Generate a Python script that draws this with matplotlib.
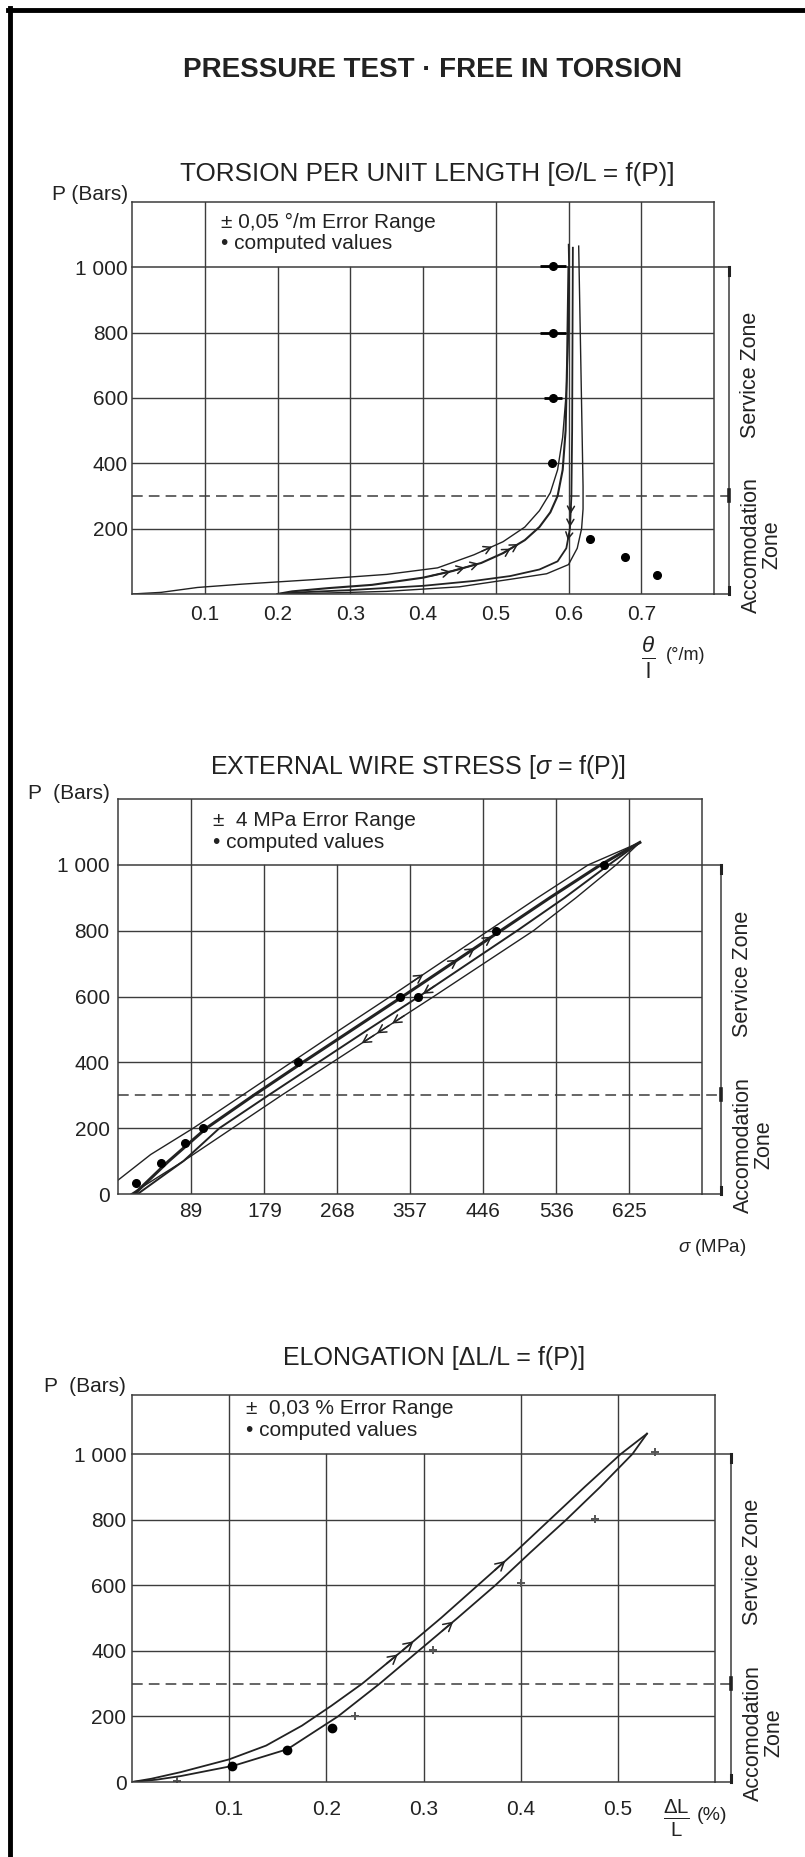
import numpy as np
import matplotlib.pyplot as plt
from matplotlib.lines import Line2D
from matplotlib.transforms import blended_transform_factory

plt.rcParams['font.family'] = ['Liberation Sans', 'DejaVu Sans']
plt.rcParams['mathtext.fontset'] = 'custom'
plt.rcParams['mathtext.rm'] = 'Liberation Sans'
plt.rcParams['mathtext.it'] = 'Liberation Sans:italic'

W, H = 805, 1857
INK = '#222222'
GRID = '#3c3c3c'

# ---------------- chart 1 : torsion per unit length ----------------
tor_xticks = [0.1, 0.2, 0.3, 0.4, 0.5, 0.6, 0.7]
tor_xlabels = ['0.1', '0.2', '0.3', '0.4', '0.5', '0.6', '0.7']
tor_pticks = [200, 400, 600, 800, 1000]
tor_plabels = ['200', '400', '600', '800', '1 000']

tor_c1_x = [0.0, 0.04, 0.09, 0.15, 0.25, 0.35, 0.42, 0.47, 0.51, 0.54, 0.56, 0.575, 0.585, 0.592, 0.597, 0.6, 0.601, 0.6]
tor_c1_p = [0, 5, 20, 30, 44, 60, 80, 120, 160, 205, 255, 310, 380, 480, 620, 800, 950, 1070]
tor_c2_x = [0.2, 0.22, 0.27, 0.33, 0.4, 0.44, 0.48, 0.51, 0.54, 0.56, 0.575, 0.585, 0.592, 0.596, 0.598, 0.6]
tor_c2_p = [0, 8, 18, 28, 50, 70, 95, 125, 165, 205, 250, 300, 380, 500, 700, 1000]
tor_c3_x = [0.2, 0.23, 0.3, 0.4, 0.47, 0.52, 0.56, 0.585, 0.597, 0.602, 0.604, 0.605, 0.606]
tor_c3_p = [0, 5, 12, 25, 40, 55, 75, 100, 140, 200, 300, 500, 1060]
tor_c4_x = [0.21, 0.25, 0.35, 0.45, 0.52, 0.57, 0.6, 0.612, 0.618, 0.62, 0.62, 0.617, 0.614]
tor_c4_p = [0, 2, 8, 22, 45, 62, 90, 140, 200, 260, 330, 700, 1065]
tor_comp_x = [0.579, 0.579, 0.579, 0.577, 0.63, 0.678, 0.722]
tor_comp_p = [1003, 800, 600, 400, 167, 112, 59]
tor_comp_err = [0.018, 0.018, 0.012, 0.0, 0.0, 0.0, 0.0]

# ---------------- chart 2 : external wire stress ----------------
str_xticks = [89, 179, 268, 357, 446, 536, 625]
str_xlabels = ['89', '179', '268', '357', '446', '536', '625']
str_pticks = [0, 200, 400, 600, 800, 1000]
str_plabels = ['0', '200', '400', '600', '800', '1 000']

str_u_x = [0, 40, 92, 152, 212, 272, 333, 393, 453, 513, 575, 638]
str_u_p = [42, 120, 200, 300, 400, 500, 600, 700, 800, 900, 1000, 1068]
str_m1_x = [20, 62, 108, 166, 226, 287, 348, 408, 468, 528, 590, 638]
str_m1_p = [0, 100, 200, 300, 400, 500, 600, 700, 800, 900, 1000, 1068]
str_m2_x = [24, 80, 124, 184, 245, 306, 368, 428, 488, 546, 600, 638]
str_m2_p = [0, 100, 200, 300, 400, 500, 600, 700, 800, 900, 1000, 1068]
str_l_x = [16, 80, 140, 200, 262, 324, 386, 447, 508, 560, 609, 638]
str_l_p = [0, 100, 200, 300, 400, 500, 600, 700, 800, 900, 1000, 1068]
str_comp_x = [22, 53, 82, 104, 220, 345, 367, 462, 594]
str_comp_p = [33, 94, 155, 200, 400, 600, 600, 800, 1000]

# ---------------- chart 3 : elongation ----------------
elo_xticks = [0.1, 0.2, 0.3, 0.4, 0.5]
elo_xlabels = ['0.1', '0.2', '0.3', '0.4', '0.5']
elo_pticks = [0, 200, 400, 600, 800, 1000]
elo_plabels = ['0', '200', '400', '600', '800', '1 000']

elo_up_x = [0.0, 0.02, 0.05, 0.1, 0.138, 0.175, 0.205, 0.237, 0.278, 0.318, 0.356, 0.394, 0.43, 0.466, 0.503, 0.53]
elo_up_p = [0, 10, 30, 69, 111, 172, 232, 300, 400, 500, 600, 700, 800, 900, 1000, 1062]
elo_dn_x = [0.53, 0.515, 0.482, 0.447, 0.41, 0.374, 0.335, 0.295, 0.255, 0.212, 0.16, 0.105, 0.05, 0.025, 0.0]
elo_dn_p = [1062, 1000, 900, 800, 700, 600, 500, 400, 300, 200, 100, 50, 18, 7, 0]
elo_comp_x = [0.103, 0.16, 0.206]
elo_comp_p = [50, 99, 165]
elo_small_x = [0.046, 0.229, 0.31, 0.40, 0.476, 0.538]
elo_small_p = [2, 200, 402, 608, 803, 1005]


def add_box(l, t, r, b):
    return fig.add_axes([l / W, 1 - b / H, (r - l) / W, (b - t) / H])


def frame(ax, xmax, pmax, xticks, xlabels, pticks, plabels, box, bx, xpad, ypad):
    ax.set_xlim(0, xmax)
    ax.set_ylim(0, pmax)
    ax.set_xticks(xticks, xlabels)
    ax.set_yticks(pticks, plabels)
    ax.tick_params(length=0, labelsize=15, colors=INK)
    ax.tick_params(axis='x', pad=xpad)
    ax.tick_params(axis='y', pad=ypad)
    for s in ax.spines.values():
        s.set_color(GRID)
        s.set_linewidth(1.1)
    for x in xticks:
        top = 1000 if box[0] < x < box[1] else pmax
        ax.plot([x, x], [0, top], color=GRID, lw=1.0, zorder=1)
    for p in pticks:
        if 0 < p < 1000:
            ax.plot([0, xmax], [p, p], color=GRID, lw=1.0, zorder=1)
    tr = blended_transform_factory(ax.transAxes, ax.transData)
    ax.plot([0, bx], [1000, 1000], color=GRID, lw=1.1, transform=tr, clip_on=False)
    ax.plot([0, bx], [300, 300], color=GRID, lw=1.1, ls=(0, (7, 4)), transform=tr, clip_on=False)
    ax.plot([1, bx], [0, 0], color=GRID, lw=1.1, transform=tr, clip_on=False)
    ax.plot([bx, bx], [0, 1000], color=GRID, lw=1.1, transform=tr, clip_on=False)
    ax.plot([bx, bx], [1000, 975], color=INK, lw=2.2, transform=tr, clip_on=False)
    ax.plot([bx, bx], [285, 318], color=INK, lw=2.6, transform=tr, clip_on=False)
    ax.plot([bx, bx], [0, 22], color=INK, lw=2.2, transform=tr, clip_on=False)
    ax.text(bx + 0.037, 670, 'Service Zone', rotation=90, transform=tr, ha='center', va='center',
            fontsize=15.5, color=INK)
    ax.text(bx + 0.056, 150, 'Accomodation\nZone', rotation=90, transform=tr, ha='center', va='center',
            multialignment='center', linespacing=0.95, fontsize=15.5, color=INK)


def arrows(ax, xs, ps, levels, dp, up=True, ms=11):
    xs = np.asarray(xs, float)
    ps = np.asarray(ps, float)
    order = np.argsort(ps)
    for lv in levels:
        xa = np.interp(lv - dp, ps[order], xs[order])
        xb = np.interp(lv + dp, ps[order], xs[order])
        a, b = ((xa, lv - dp), (xb, lv + dp)) if up else ((xb, lv + dp), (xa, lv - dp))
        ax.annotate('', xy=b, xytext=a,
                    arrowprops=dict(arrowstyle='->,head_length=0.5,head_width=0.28', lw=1.1,
                                    color=INK, shrinkA=0, shrinkB=0, mutation_scale=ms))


fig = plt.figure(figsize=(W / 100, H / 100), dpi=100)
fig.patch.set_facecolor('white')

# page border (top and left only, as scanned)
fig.add_artist(Line2D([8 / W, 1], [1 - 10 / H, 1 - 10 / H], color='black', lw=3.5))
fig.add_artist(Line2D([10 / W, 10 / W], [0, 1 - 8 / H], color='black', lw=3.5))

fig.text(433 / W, 1 - 70 / H, 'PRESSURE TEST · FREE IN TORSION', ha='center', va='center',
         fontsize=20, fontweight='bold', color=INK)

# ---- chart 1
ax1 = add_box(132, 202, 714, 594)
frame(ax1, 0.8, 1200, tor_xticks, tor_xlabels, tor_pticks, tor_plabels, (0.1, 0.5), 1.0258, 8, 3)
ax1.plot(tor_c1_x, tor_c1_p, color=INK, lw=1.0)
ax1.plot(tor_c2_x, tor_c2_p, color=INK, lw=1.5)
ax1.plot(tor_c3_x, tor_c3_p, color=INK, lw=1.3)
ax1.plot(tor_c4_x, tor_c4_p, color=INK, lw=1.0)
ax1.errorbar(tor_comp_x, tor_comp_p, xerr=tor_comp_err, fmt='o', ms=5.5, color='black',
             elinewidth=2.0, capsize=0)
arrows(ax1, tor_c2_x, tor_c2_p, [62, 74, 86, 132, 146], 7, True, 10)
arrows(ax1, tor_c1_x, tor_c1_p, [138], 7, True, 10)
arrows(ax1, tor_c3_x, tor_c3_p, [175, 215, 255], 10, False, 9)
fig.text(427 / W, 1 - 174 / H, 'TORSION PER UNIT LENGTH [Θ/L = f(P)]', ha='center', va='center',
         fontsize=18.8, color=INK)
fig.text(128 / W, 1 - 195 / H, 'P (Bars)', ha='right', va='center', fontsize=15, color=INK)
fig.text(221 / W, 1 - 222 / H, '± 0,05 °/m Error Range', ha='left', va='center', fontsize=15, color=INK)
fig.text(221 / W, 1 - 244 / H, '• computed values', ha='left', va='center', fontsize=15, color=INK)
fig.text(648 / W, 1 - 658 / H, r'$\frac{\theta}{\mathrm{l}}$', ha='center', va='center', fontsize=23, color=INK)
fig.text(666 / W, 1 - 656 / H, '(°/m)', ha='left', va='center', fontsize=13, color=INK)

# ---- chart 2
ax2 = add_box(118, 799, 702, 1194)
frame(ax2, 714, 1200, str_xticks, str_xlabels, str_pticks, str_plabels, (89, 446), 1.0325, 6, 6)
ax2.plot(str_u_x, str_u_p, color=INK, lw=1.0)
ax2.plot(str_m1_x, str_m1_p, color=INK, lw=2.2)
ax2.plot(str_m2_x, str_m2_p, color=INK, lw=1.4)
ax2.plot(str_l_x, str_l_p, color=INK, lw=1.0)
ax2.plot(str_comp_x, str_comp_p, 'o', ms=5.5, color='black')
arrows(ax2, str_m1_x, str_m1_p, [700, 735, 770], 12, True, 11)
arrows(ax2, str_u_x, str_u_p, [655], 12, True, 11)
arrows(ax2, str_l_x, str_l_p, [470, 500, 530], 12, False, 11)
arrows(ax2, str_m2_x, str_m2_p, [620], 12, False, 11)
fig.text(418 / W, 1 - 767 / H, 'EXTERNAL WIRE STRESS [$\\sigma$ = f(P)]', ha='center', va='center',
         fontsize=18, color=INK)
fig.text(110 / W, 1 - 793 / H, 'P  (Bars)', ha='right', va='center', fontsize=15, color=INK)
fig.text(213 / W, 1 - 820 / H, '±  4 MPa Error Range', ha='left', va='center', fontsize=15, color=INK)
fig.text(213 / W, 1 - 843 / H, '• computed values', ha='left', va='center', fontsize=15, color=INK)
fig.text(678 / W, 1 - 1248 / H, r'$\sigma$ (MPa)', ha='left', va='center', fontsize=13.5, color=INK)

# ---- chart 3
ax3 = add_box(132, 1395, 715, 1782)
frame(ax3, 0.6, 1180, elo_xticks, elo_xlabels, elo_pticks, elo_plabels, (0.1, 0.4), 1.0274, 13, 4)
ax3.plot(elo_up_x, elo_up_p, color=INK, lw=1.3)
ax3.plot(elo_dn_x, elo_dn_p, color=INK, lw=1.3)
ax3.plot(elo_comp_x, elo_comp_p, 'o', ms=6, color='black')
ax3.plot(elo_small_x, elo_small_p, '+', ms=6, mew=1.4, color='#555555')
arrows(ax3, elo_up_x, elo_up_p, [375, 415, 660], 14, True, 12)
arrows(ax3, elo_dn_x, elo_dn_p, [475], 14, True, 12)
fig.text(434 / W, 1 - 1358 / H, 'ELONGATION [ΔL/L = f(P)]', ha='center', va='center',
         fontsize=18, color=INK)
fig.text(126 / W, 1 - 1387 / H, 'P  (Bars)', ha='right', va='center', fontsize=15, color=INK)
fig.text(246 / W, 1 - 1408 / H, '±  0,03 % Error Range', ha='left', va='center', fontsize=15, color=INK)
fig.text(246 / W, 1 - 1430 / H, '• computed values', ha='left', va='center', fontsize=15, color=INK)
fig.text(676 / W, 1 - 1818 / H, r'$\frac{\Delta \mathrm{L}}{\mathrm{L}}$', ha='center', va='center',
         fontsize=21, color=INK)
fig.text(697 / W, 1 - 1815 / H, '(%)', ha='left', va='center', fontsize=14, color=INK)

fig.savefig('out.png', dpi=100)
